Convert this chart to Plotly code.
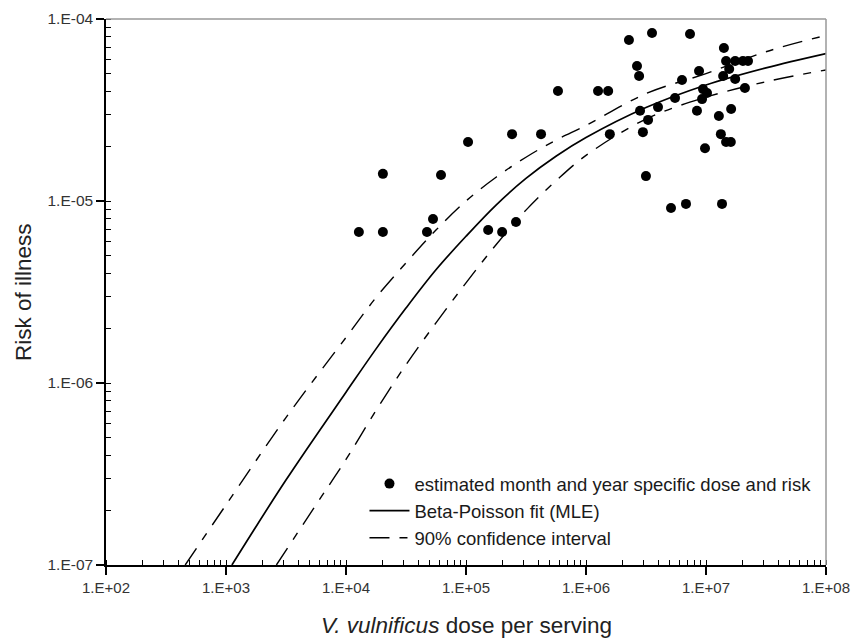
import plotly.graph_objects as go

# observed points (dose per serving, risk of illness)
dose = [1.28e4, 2.03e4, 2.03e4, 4.73e4, 5.31e4, 6.19e4, 1.04e5, 1.53e5, 2.0e5, 2.61e5,
        2.42e5, 4.22e5, 5.84e5, 1.26e6, 1.53e6, 1.58e6, 2.28e6, 3.55e6, 2.66e6, 2.77e6,
        2.82e6, 3.29e6, 2.98e6, 3.16e6, 3.98e6, 5.11e6, 5.52e6, 6.31e6, 6.81e6, 7.36e6,
        8.75e6, 9.44e6, 1.02e7, 9.27e6, 8.41e6, 9.81e6, 1.28e7, 1.36e7, 1.33e7, 1.47e7,
        1.41e7, 1.39e7, 1.62e7, 1.75e7, 2.11e7, 1.47e7, 1.75e7, 2.03e7, 2.24e7, 1.56e7,
        1.61e7]
risk = [6.76e-6, 6.76e-6, 1.41e-5, 6.76e-6, 7.96e-6, 1.39e-5, 2.11e-5, 6.93e-6, 6.76e-6, 7.67e-6,
        2.33e-5, 2.33e-5, 4.02e-5, 4.02e-5, 4.02e-5, 2.33e-5, 7.67e-5, 8.38e-5, 5.52e-5, 4.86e-5,
        3.13e-5, 2.79e-5, 2.39e-5, 1.37e-5, 3.28e-5, 9.16e-6, 3.68e-5, 4.62e-5, 9.64e-6, 8.27e-5,
        5.18e-5, 4.12e-5, 3.92e-5, 3.63e-5, 3.13e-5, 1.95e-5, 2.93e-5, 9.64e-6, 2.33e-5, 2.11e-5,
        6.93e-5, 4.86e-5, 3.20e-5, 4.68e-5, 4.18e-5, 5.88e-5, 5.88e-5, 5.88e-5, 5.88e-5, 5.31e-5,
        2.11e-5]

# Beta-Poisson fit (MLE)
fit_dose = [1.12e3, 3.16e3, 1e4, 1.78e4, 3.16e4, 5.62e4, 1e5, 1.78e5, 3.16e5, 5.62e5,
            1e6, 3.16e6, 1e7, 3.16e7, 1e8]
fit_risk = [1.0e-7, 2.93e-7, 8.9e-7, 1.54e-6, 2.58e-6, 4.19e-6, 6.4e-6, 9.5e-6, 1.33e-5, 1.76e-5,
            2.23e-5, 3.26e-5, 4.34e-5, 5.39e-5, 6.46e-5]

# 90% confidence interval
up_dose = [4.57e2, 1e3, 3.16e3, 1e4, 1.78e4, 3.16e4, 5.62e4, 1e5, 1.78e5, 3.16e5, 5.62e5,
           1e6, 3.16e6, 1e7, 3.16e7, 1e8]
up_risk = [1.0e-7, 2.14e-7, 6.46e-7, 1.78e-6, 2.95e-6, 4.57e-6, 6.92e-6, 1.0e-5, 1.35e-5, 1.74e-5, 2.16e-5,
           2.60e-5, 3.89e-5, 5.01e-5, 6.61e-5, 8.13e-5]
lo_dose = [2.63e3, 5.62e3, 1e4, 1.78e4, 3.16e4, 5.62e4, 1e5, 1.78e5, 3.16e5, 5.62e5,
           1e6, 3.16e6, 1e7, 3.16e7, 1e8]
lo_risk = [1.0e-7, 2.14e-7, 3.80e-7, 7.08e-7, 1.26e-6, 2.14e-6, 3.55e-6, 5.75e-6, 8.91e-6, 1.29e-5,
           1.78e-5, 2.82e-5, 3.72e-5, 4.52e-5, 5.25e-5]

x_tickvals = [1e2, 1e3, 1e4, 1e5, 1e6, 1e7, 1e8]
x_ticktext = ["1.E+02", "1.E+03", "1.E+04", "1.E+05", "1.E+06", "1.E+07", "1.E+08"]
y_tickvals = [1e-7, 1e-6, 1e-5, 1e-4]
y_ticktext = ["1.E-07", "1.E-06", "1.E-05", "1.E-04"]

FONT = "Liberation Sans, Arial, sans-serif"
DASH = "20px,10px,8px,10px"

fig = go.Figure()
fig.add_trace(go.Scatter(
    x=dose, y=risk, mode="markers", name="estimated month and year specific dose and risk",
    marker=dict(color="black", size=10, line=dict(width=0)), legendgroup="a"))
fig.add_trace(go.Scatter(
    x=fit_dose, y=fit_risk, mode="lines", name="Beta-Poisson fit (MLE)",
    line=dict(color="black", width=1.7, shape="spline"), legendgroup="b"))
fig.add_trace(go.Scatter(
    x=up_dose, y=up_risk, mode="lines", name="90% confidence interval",
    line=dict(color="black", width=1.4, dash=DASH, shape="spline"), legendgroup="c"))
fig.add_trace(go.Scatter(
    x=lo_dose, y=lo_risk, mode="lines", showlegend=False,
    line=dict(color="black", width=1.4, dash=DASH, shape="spline"), legendgroup="c"))

fig.update_layout(
    width=856, height=638,
    margin=dict(l=106, r=30, t=19, b=73, autoexpand=False),
    paper_bgcolor="white", plot_bgcolor="white",
    font=dict(family=FONT, color="#222", size=15),
    showlegend=True,
    legend=dict(x=0.359, y=0.183, xanchor="left", yanchor="top",
                font=dict(size=18.5, color="#1a1a1a"), bgcolor="rgba(0,0,0,0)",
                traceorder="grouped", tracegroupgap=0, itemwidth=40),
    shapes=[
        dict(type="line", xref="paper", yref="paper", x0=0, x1=1, y0=1, y1=1,
             line=dict(color="#999", width=1.5)),
        dict(type="line", xref="paper", yref="paper", x0=1, x1=1, y0=0, y1=1,
             line=dict(color="#999", width=1.5)),
    ],
    annotations=[
        dict(text="<i>V. vulnificus</i> dose per serving", xref="paper", yref="paper",
             x=0.5, y=-0.1099, xanchor="center", yanchor="middle", showarrow=False,
             font=dict(size=22.5, color="#222")),
        dict(text="Risk of illness", xref="paper", yref="paper",
             x=-0.1153, y=0.5, xanchor="center", yanchor="middle", showarrow=False,
             textangle=-90, font=dict(size=22.5, color="#222")),
    ],
)
fig.update_xaxes(
    type="log", range=[2, 8], showgrid=False, zeroline=False, automargin=False,
    showline=True, linecolor="black", linewidth=1.5,
    tickvals=x_tickvals, ticktext=x_ticktext,
    ticks="outside", ticklen=8, tickwidth=1.5, tickcolor="black",
    tickfont=dict(size=15, color="#333"),
    minor=dict(ticks="inside", ticklen=5, tickwidth=1, tickcolor="black", dtick="D1", showgrid=False),
)
fig.update_yaxes(
    type="log", range=[-7, -4], showgrid=False, zeroline=False, automargin=False,
    showline=True, linecolor="black", linewidth=1.5,
    tickvals=y_tickvals, ticktext=y_ticktext,
    ticks="outside", ticklen=8, tickwidth=1.5, tickcolor="black",
    tickfont=dict(size=15.5, color="#333"),
    minor=dict(ticks="inside", ticklen=5, tickwidth=1, tickcolor="black", dtick="D1", showgrid=False),
)

fig.write_html(
    "out.html",
    config={"displayModeBar": False},
    post_script="document.body.style.margin='0';document.body.style.padding='0';",
)
